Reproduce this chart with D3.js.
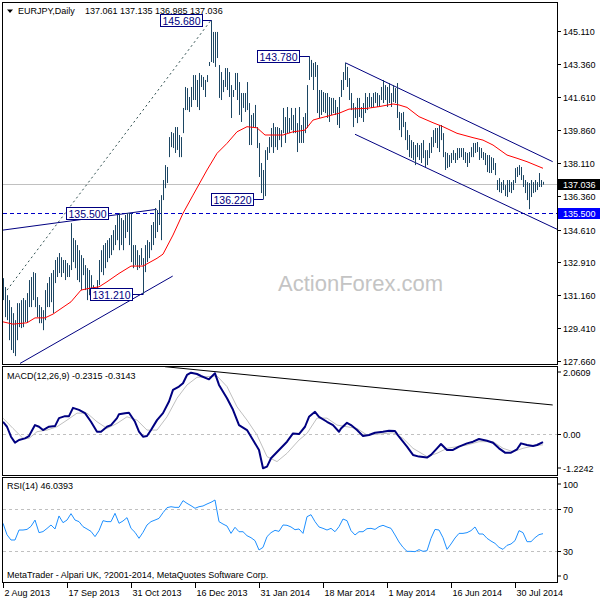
<!DOCTYPE html>
<html><head><meta charset="utf-8">
<script src="https://cdn.jsdelivr.net/npm/d3@7"></script>
<style>body{margin:0;background:#fff}svg{display:block;font-family:"Liberation Sans",Arial,sans-serif}</style>
</head><body><svg id="c" width="600" height="600"></svg>
<script>
// ---- data (daily EURJPY bars, index 0 = 2 Aug 2013) ----
const highs = [132.04,131.57,131.14,130.88,130.51,130.19,129.82,130.72,130.72,130.88,
130.99,130.88,131.25,131.94,132.10,132.36,132.31,131.04,130.62,130.51,
130.35,131.41,131.78,132.10,132.31,132.47,133.00,133.15,133.37,133.15,
133.00,133.00,132.84,132.73,134.95,134.16,134.05,133.79,133.52,133.26,
133.10,132.73,132.57,132.47,132.20,131.67,131.51,131.94,133.00,133.52,
133.79,133.90,134.05,134.16,134.32,134.58,134.85,135.38,135.48,135.22,
135.11,135.38,135.48,135.48,135.48,133.79,133.79,133.52,133.26,133.63,
133.10,133.79,134.05,133.95,134.85,135.01,135.75,135.64,136.17,136.43,
137.23,138.02,137.92,139.50,139.77,139.71,140.03,140.03,139.61,139.50,
141.04,142.15,142.09,141.62,142.15,142.78,142.78,142.52,142.89,142.78,
142.68,142.52,142.78,143.47,145.68,145.06,145.06,145.06,143.31,142.94,
142.52,143.15,143.15,142.94,142.25,141.99,142.89,142.89,142.41,141.83,
141.83,141.83,142.41,141.30,140.67,140.77,141.20,140.03,139.19,138.13,
137.76,138.81,138.97,139.50,139.98,140.24,140.03,140.03,139.98,139.87,
141.04,140.56,141.09,140.51,141.04,140.67,141.04,140.24,141.09,140.14,
140.56,140.77,142.25,143.78,143.58,143.42,143.47,143.31,141.99,141.99,
141.88,141.83,141.83,141.62,141.57,141.57,141.46,141.09,141.62,142.52,
142.94,143.42,143.21,142.62,141.83,141.30,141.09,141.57,141.57,141.09,
141.30,141.83,141.62,141.83,141.62,141.83,141.88,141.83,141.72,142.15,
142.52,142.25,142.15,142.36,141.83,142.25,142.09,142.36,140.83,140.77,
140.83,140.30,139.87,139.61,139.34,139.24,139.08,139.19,139.08,139.19,
139.34,138.81,138.81,139.19,139.50,139.87,139.98,139.98,140.14,140.14,
139.71,138.71,138.66,138.55,138.66,138.81,138.66,138.92,138.92,138.92,
138.92,138.71,138.66,138.71,138.97,139.19,139.19,139.24,138.97,138.92,
138.71,138.66,138.55,138.55,138.44,138.39,138.13,137.23,137.33,137.12,
137.23,136.96,137.23,137.23,137.12,137.23,137.86,137.92,138.02,137.92,
137.49,137.23,137.12,137.07,137.23,137.12,137.23,137.12,137.60,137.23,
137.135];
const lows = [130.88,129.98,129.82,128.76,128.24,128.08,127.92,128.76,129.45,129.40,
129.45,129.72,129.72,130.51,130.51,130.88,130.51,129.98,129.66,129.66,
129.29,129.82,130.51,130.51,130.77,130.19,131.78,132.10,132.31,132.10,
132.31,131.94,132.10,132.10,132.47,132.89,132.57,131.94,131.83,131.41,
132.20,131.41,130.88,131.14,130.88,130.99,130.88,131.14,131.67,132.36,
132.20,132.57,132.89,133.10,133.26,133.52,133.79,134.05,133.52,133.79,
133.52,134.16,134.48,133.79,132.89,132.57,132.73,132.47,132.57,132.73,
131.21,132.36,132.89,133.10,133.52,133.79,134.16,134.48,134.85,134.05,
136.17,136.80,137.07,138.44,138.97,138.92,138.66,138.82,138.44,138.44,
139.71,140.93,140.93,140.83,141.09,141.46,141.46,141.09,140.93,142.15,
141.99,141.62,142.41,143.26,143.47,143.42,143.21,143.68,141.57,141.46,
141.88,142.15,141.99,141.62,140.51,141.62,141.99,141.46,140.67,140.30,
141.04,140.83,140.93,139.08,139.08,140.03,139.98,138.92,137.39,136.54,
136.22,136.38,138.29,138.66,138.97,138.66,138.97,138.82,139.34,138.97,
139.71,139.19,139.71,139.71,139.87,139.71,139.71,138.71,139.19,139.19,
139.19,139.71,139.98,142.52,142.68,141.99,142.68,140.77,140.51,140.67,
140.83,140.77,140.51,140.30,140.67,140.77,140.67,140.14,139.98,141.62,
141.99,142.52,142.15,141.46,140.93,140.03,140.51,140.24,140.56,140.51,
140.30,140.77,140.93,141.09,141.04,141.09,141.30,141.09,141.09,141.46,
141.30,141.46,141.09,141.30,141.09,141.35,141.30,140.51,139.87,139.50,
140.03,139.34,138.82,138.44,138.39,138.29,138.02,138.44,138.29,138.13,
138.39,137.92,138.02,138.39,138.66,138.97,139.19,138.92,138.71,139.34,
138.44,137.76,137.86,137.92,138.13,138.29,138.13,138.29,138.39,138.44,
138.29,138.13,137.92,138.13,138.44,138.44,138.66,138.71,138.29,138.39,
138.29,138.02,137.65,137.60,137.60,137.76,137.49,136.70,136.59,136.54,
136.70,136.38,136.33,136.59,136.54,136.70,137.07,137.39,137.49,137.23,
136.86,136.54,136.17,135.69,136.33,136.54,136.59,136.70,136.86,136.86,
136.985];
const maBars = [0,5,12,16,21,25,34,39,43,48,52,58,64,70,77,80,85,90,95,102,107,112,117,122,127,131,140,145,148,151,155,158,168,173,182,188,195,198,202,208,215,220,227,235,240,245,252,257,262,270];
const maVals = [129.73,129.61,129.68,129.94,129.94,130.14,130.79,131.41,131.50,131.58,131.85,132.29,132.68,132.68,133.09,133.31,134.32,135.47,136.43,137.76,138.64,139.17,139.78,140.05,139.99,139.61,139.61,139.78,139.82,139.87,140.40,140.49,140.76,140.98,141.02,141.11,141.25,141.20,141.07,140.58,140.26,140.05,139.70,139.47,139.34,139.08,138.55,138.38,138.20,137.85];
const macdBars = [0,2,4,6,8,11,13,16,18,20,23,26,28,31,33,35,38,41,44,47,49,52,54,57,58,61,63,66,68,70,72,74,77,80,83,85,88,90,92,94,97,99,103,106,108,112,115,118,122,125,128,130,132,134,138,142,145,148,151,153,156,158,162,165,168,169,172,174,177,180,183,186,190,193,196,198,202,205,208,212,214,217,219,222,225,228,232,235,238,242,245,248,251,254,257,259,262,265,267,270];
const macdMain = [0.38,0.23,-0.07,-0.25,-0.17,-0.12,-0.05,0.28,0.23,0.13,0.23,0.25,0.49,0.55,0.55,0.80,0.74,0.64,0.38,0.08,0.08,0.23,0.28,0.49,0.61,0.64,0.65,0.38,0.08,-0.07,-0.05,0.13,0.43,0.64,0.99,1.34,1.44,1.54,1.79,1.86,1.82,1.76,1.66,1.84,1.49,1.09,0.74,0.28,0.13,-0.17,-0.47,-1.02,-0.97,-0.72,-0.47,-0.22,0.03,0.01,0.23,0.53,0.68,0.53,0.38,0.28,0.08,0.18,0.35,0.28,0.13,-0.05,-0.02,0.05,0.08,0.11,0.10,-0.07,-0.37,-0.62,-0.67,-0.70,-0.62,-0.42,-0.29,-0.47,-0.47,-0.37,-0.27,-0.22,-0.14,-0.19,-0.25,-0.42,-0.55,-0.55,-0.45,-0.27,-0.32,-0.35,-0.32,-0.2315];
const sigBars = [0,5,10,13,17,22,27,32,37,42,47,52,57,62,67,72,77,82,87,92,97,102,107,112,117,122,127,132,137,142,148,152,157,162,167,172,177,182,188,195,200,205,212,217,222,227,232,238,245,250,255,260,265,270];
const macdSignal = [0.49,0.18,-0.12,-0.12,0.08,0.13,0.23,0.43,0.64,0.64,0.38,0.18,0.33,0.53,0.43,0.13,0.13,0.53,1.09,1.49,1.72,1.74,1.76,1.44,0.83,0.43,-0.02,-0.67,-0.82,-0.57,-0.17,0.03,0.49,0.49,0.28,0.23,0.18,-0.02,0.01,0.05,-0.12,-0.42,-0.67,-0.57,-0.42,-0.37,-0.32,-0.22,-0.22,-0.42,-0.52,-0.42,-0.35,-0.3143];
const rsiStep = 2;
const rsiVals = [55.9,45,40,40,49.5,49.5,50.1,53,59,47,
48,51,54.3,50.5,62.9,56.5,59,65.1,59,57.5,
52.7,50.5,48.2,43.2,48.9,58.4,57.5,57.5,65.4,55.9,
58.1,61.3,51.1,47.3,41.6,47.3,54.3,57.5,59,60.6,
66,70.8,71.7,71.1,71.1,77.5,74.9,72.7,70.2,71.7,
72.4,74.3,75.9,78.1,57.5,55.2,53.3,46.3,52.1,47.9,
47.9,44.1,42.2,39.4,30.5,33,43.2,47,49.2,48.2,
54.3,54,52.4,49.8,50.5,46.3,62.2,64.1,57.5,52.4,
51.1,49.5,51.1,47.9,52.7,60,58.4,48.9,44.8,47.9,
47.9,50.8,51.1,50.1,52.7,54,52.4,51.1,44.8,38.1,
33,29.2,29.2,28.9,30.8,29.2,29.8,41.6,50.1,49.5,
42.2,31.1,36.2,41.9,46.3,46.3,47,48.9,52.4,45.7,
45.7,41.6,39,36.8,33,31.1,34.9,36.2,39.4,48.9,
47,38.4,38.4,42.2,45.1,46.04];
const dateLabels = ["2 Aug 2013","17 Sep 2013","31 Oct 2013","16 Dec 2013","31 Jan 2014","18 Mar 2014","1 May 2014","16 Jun 2014","30 Jul 2014"];
const dateBars = [0,32,64,96,128,160,192,224,256];
const priceTicks = [145.11,143.36,141.61,139.86,138.11,136.36,134.61,132.91,131.16,129.41,127.66];
const macdTicks = [2.0609,0,-1.2242];
const macdTickText = ["2.0609","0.00","-1.2242"];
const rsiTicks = [100,70,30,0];
const rsiLevels = [70,30];
const lastPrice = 137.036, supportLevel = 135.5;
const annText = ["145.680","143.780","136.220","135.500","131.210"];
const annPrice = [145.68,143.78,136.22,135.50,131.21];
const annBoxEnd = [99.35,148,124.85,52.35,64.35];
const annTarget = [104,153,130,null,70];
const dottedLine = [[2,131.41],[104,145.68]];
const solidLines = [
  [[-0.15,134.58],[76.85,135.68]],
  [[8.5,127.53],[84.85,132.15]],
  [[171.15,143.43],[274.85,138.20]],
  [[176,139.65],[277.15,134.62]]
];
const macdTrend = [[81,2.04],[274.85,0.886]];

// ---- drawing ----
const svg = d3.select("#c");
const x = d3.scaleLinear().domain([0,277]).range([3,557]);
const yP = d3.scaleLinear().domain([127.66,145.11]).range([361,31]);
const yM = d3.scaleLinear().domain([-1.2242,2.0609]).range([475,366]);
const yR = d3.scaleLinear().domain([0,100]).range([582,477]);
const px = i => Math.round(x(i)) + 0.5;
const FS = 9;

svg.append("rect").attr("width",600).attr("height",600).attr("fill","#fff");
const defs = svg.append("defs");
defs.append("clipPath").attr("id","cm").append("rect").attr("x",3).attr("y",3).attr("width",554).attr("height",361);
defs.append("clipPath").attr("id","cd").append("rect").attr("x",3).attr("y",367).attr("width",554).attr("height",108);
defs.append("clipPath").attr("id","cr").append("rect").attr("x",3).attr("y",478).attr("width",554).attr("height",104);

// watermark
svg.append("text").attr("x",278).attr("y",291).attr("font-size",22).attr("fill","#c4c4c4").text("ActionForex.com");

const main = svg.append("g").attr("clip-path","url(#cm)");
// current price line
main.append("line").attr("x1",3).attr("x2",557).attr("y1",Math.round(yP(lastPrice))+0.5).attr("y2",Math.round(yP(lastPrice))+0.5).attr("stroke","#c0c0c0");
// support dashed line
main.append("line").attr("x1",3).attr("x2",557).attr("y1",Math.round(yP(supportLevel))+0.5).attr("y2",Math.round(yP(supportLevel))+0.5).attr("stroke","#0000c8").attr("stroke-dasharray","4,3");
// dotted trend
main.append("line").attr("x1",x(dottedLine[0][0])).attr("y1",yP(dottedLine[0][1])).attr("x2",x(dottedLine[1][0])).attr("y2",yP(dottedLine[1][1])).attr("stroke","#2f4f4f").attr("stroke-dasharray","2,3");
// solid trend lines
main.selectAll("line.tl").data(solidLines).enter().append("line").attr("class","tl")
  .attr("x1",d=>x(d[0][0])).attr("y1",d=>yP(d[0][1])).attr("x2",d=>x(d[1][0])).attr("y2",d=>yP(d[1][1]))
  .attr("stroke","#000080").attr("stroke-width",1);
// bars
main.selectAll("line.bar").data(highs).enter().append("line").attr("class","bar")
  .attr("x1",(d,i)=>px(i)).attr("x2",(d,i)=>px(i))
  .attr("y1",d=>yP(d)).attr("y2",(d,i)=>Math.max(yP(lows[i]), yP(d)+1))
  .attr("stroke","#1c4663").attr("stroke-width",1);
// MA
main.append("path").datum(maBars).attr("fill","none").attr("stroke","#ff0000").attr("stroke-width",1)
  .attr("d",d3.line().x(b=>x(b)).y((b,k)=>yP(maVals[k])));
// annotations
annText.forEach((t,k)=>{
  const yc = Math.round(yP(annPrice[k]));
  const xr = Math.round(x(annBoxEnd[k]));
  const w = 42;
  if (annTarget[k]!==null) {
    main.append("line").attr("x1",xr).attr("x2",px(annTarget[k])).attr("y1",yc+0.5).attr("y2",yc+0.5).attr("stroke","#000080");
  }
  main.append("rect").attr("x",xr-w+0.5).attr("y",yc-5.5).attr("width",w).attr("height",12).attr("fill","#fff").attr("stroke","#000080");
  main.append("text").attr("x",xr-w/2+0.5).attr("y",yc+4.5).attr("text-anchor","middle").attr("font-size",10.5).attr("fill","#000080").text(t);
});

// MACD panel
const md = svg.append("g").attr("clip-path","url(#cd)");
md.append("line").attr("x1",3).attr("x2",557).attr("y1",Math.round(yM(0))+0.5).attr("y2",Math.round(yM(0))+0.5).attr("stroke","#c0c0c0").attr("stroke-dasharray","3,3");
md.append("line").attr("x1",x(macdTrend[0][0])).attr("y1",yM(macdTrend[0][1])).attr("x2",x(macdTrend[1][0])).attr("y2",yM(macdTrend[1][1])).attr("stroke","#000");
md.append("path").datum(sigBars).attr("fill","none").attr("stroke","#c0c0c0").attr("stroke-width",1)
  .attr("d",d3.line().x(b=>x(b)).y((b,k)=>yM(macdSignal[k])));
md.append("path").datum(macdBars).attr("fill","none").attr("stroke","#000080").attr("stroke-width",2).attr("stroke-linejoin","round")
  .attr("d",d3.line().x(b=>x(b)).y((b,k)=>yM(macdMain[k])));

// RSI panel
const rs = svg.append("g").attr("clip-path","url(#cr)");
rs.selectAll("line.lv").data(rsiLevels).enter().append("line").attr("class","lv")
  .attr("x1",3).attr("x2",557).attr("y1",d=>Math.round(yR(d))+0.5).attr("y2",d=>Math.round(yR(d))+0.5)
  .attr("stroke","#c0c0c0").attr("stroke-dasharray","3,3");
rs.append("path").datum(rsiVals).attr("fill","none").attr("stroke","#1e90ff").attr("stroke-width",1)
  .attr("d",d3.line().x((v,k)=>x(k*rsiStep)).y(v=>yR(v)));

// frames
[[2.5,364.5],[366.5,475.5],[477.5,582.5]].forEach(f=>{
  svg.append("rect").attr("x",2.5).attr("y",f[0]).attr("width",555).attr("height",f[1]-f[0]).attr("fill","none").attr("stroke","#000");
});

// right axes
const ax = svg.append("g").attr("font-size",FS).attr("fill","#000");
priceTicks.forEach(p=>{
  const y = Math.round(yP(p))+0.5;
  ax.append("line").attr("x1",557.5).attr("x2",561).attr("y1",y).attr("y2",y).attr("stroke","#000");
  ax.append("text").attr("x",563).attr("y",y+3.5).text(d3.format(".3f")(p));
});
macdTicks.forEach((v,k)=>{
  const y = Math.round(yM(v))+0.5;
  const ty = k===0 ? y+9 : (k===2 ? y-4 : y+3.5);
  ax.append("line").attr("x1",557.5).attr("x2",561).attr("y1",ty-3.5).attr("y2",ty-3.5).attr("stroke","#000");
  ax.append("text").attr("x",563).attr("y",ty).text(macdTickText[k]);
});
rsiTicks.forEach(v=>{
  const y = Math.round(yR(v))+0.5;
  const ty = v===100 ? y+10 : (v===0 ? y-3 : y+3.5);
  ax.append("line").attr("x1",557.5).attr("x2",561).attr("y1",ty-3.5).attr("y2",ty-3.5).attr("stroke","#000");
  ax.append("text").attr("x",563).attr("y",ty).text(v);
});
// price markers
const yl = Math.round(yP(lastPrice));
ax.append("rect").attr("x",558).attr("y",yl-5).attr("width",42).attr("height",11).attr("fill","#000");
ax.append("text").attr("x",563).attr("y",yl+4).attr("fill","#fff").text(d3.format(".3f")(lastPrice));
const ys = Math.round(yP(supportLevel));
ax.append("rect").attr("x",558).attr("y",ys-5).attr("width",42).attr("height",11).attr("fill","#0000ff");
ax.append("text").attr("x",563).attr("y",ys+4).attr("fill","#fff").text(d3.format(".3f")(supportLevel));

// date axis
dateBars.forEach((b,k)=>{
  const xx = px(b);
  ax.append("line").attr("x1",xx).attr("x2",xx).attr("y1",582.5).attr("y2",588).attr("stroke","#000");
  ax.append("text").attr("x",xx+1).attr("y",596).text(dateLabels[k]);
});

// titles
svg.append("path").attr("d","M7,9.5L13,9.5L10,13Z").attr("fill","#000");
ax.append("text").attr("x",18).attr("y",14).text("EURJPY,Daily");
ax.append("text").attr("x",85).attr("y",14).text("137.061 137.135 136.985 137.036");
ax.append("text").attr("x",7).attr("y",379).text("MACD(12,26,9) -0.2315 -0.3143");
ax.append("text").attr("x",7).attr("y",489).text("RSI(14) 46.0393");
ax.append("text").attr("x",7).attr("y",578).text("MetaTrader - Alpari UK, ?2001-2014, MetaQuotes Software Corp.");
</script></body></html>
